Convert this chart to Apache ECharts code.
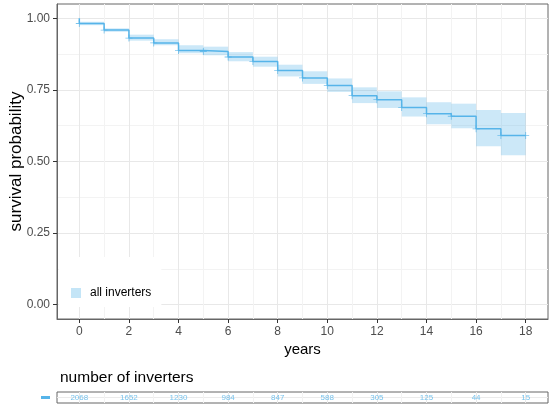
<!DOCTYPE html>
<html><head><meta charset="utf-8">
<script src="https://cdn.jsdelivr.net/npm/echarts@6/dist/echarts.min.js"></script>
<style>html,body{margin:0;padding:0;background:#fff}#c{width:549px;height:406px}</style>
</head><body><div id="c"></div>
<script>
// interval start times (years) and Kaplan-Meier estimates
const times = [0,1,2,3,4,5,6,7,8,9,10,11,12,13,14,15,16,17];
const survival = [0.982,0.959,0.931,0.914,0.888,0.884,0.865,0.849,0.818,0.792,0.765,0.730,0.716,0.689,0.667,0.658,0.614,0.591];
const upper = [0.988,0.965,0.943,0.927,0.906,0.901,0.882,0.866,0.838,0.815,0.790,0.759,0.745,0.724,0.707,0.702,0.680,0.669];
const lower = [0.976,0.953,0.922,0.906,0.878,0.871,0.850,0.831,0.797,0.771,0.743,0.704,0.687,0.657,0.630,0.616,0.553,0.522];
const endTime = 18;
// number at risk table
const riskTimes = [0,2,4,6,8,10,12,14,16,18];
const riskCounts = [2068,1652,1230,984,847,588,305,125,44,15];
const xTicks = [0,2,4,6,8,10,12,14,16,18];
const xGridAll = [0,1,2,3,4,5,6,7,8,9,10,11,12,13,14,15,16,17,18];
const yTicks = [0,0.25,0.5,0.75,1];
const yGridAll = [0,0.125,0.25,0.375,0.5,0.625,0.75,0.875,1];

const BLUE = '#56B4E9';
const FILL = 'rgba(86,180,233,0.3)';
const FONT = 'Liberation Sans, Arial, sans-serif';

// build step line points
const stepData = [[0,1]];
times.forEach((t,i)=>stepData.push([t, survival[i]]));
stepData.push([endTime, survival[survival.length-1]]);
const bandData = times.map((t,i)=>[t, i+1<times.length ? times[i+1] : endTime, lower[i], upper[i]]);
const censorData = times.map((t,i)=>[t, survival[i]]);
censorData.push([endTime, survival[survival.length-1]]);
const tableData = riskTimes.map((t,i)=>[t, 0, riskCounts[i]]);

const plus = 'path://M4.4,0h1.2v4.4h4.4v1.2h-4.4v4.4h-1.2v-4.4h-4.4v-1.2h4.4z';
const XMIN=-0.9, XMAX=18.9, YMIN=-0.05, YMAX=1.05;
const grid0 = {left:57, right:1, top:4, bottom:87, outerBoundsMode:'none', containLabel:false, show:true, borderColor:'#666', borderWidth:1, backgroundColor:'#fff'};
const grid1 = {left:57, right:1, top:392, height:11, outerBoundsMode:'none', containLabel:false, show:true, borderColor:'#666', borderWidth:1};

const chart = echarts.init(document.getElementById('c'), null, {renderer:'canvas'});
chart.setOption({
  animation:false,
  textStyle:{fontFamily:FONT},
  title:{text:'number of inverters', left:55, top:365, textStyle:{fontSize:15.5, fontWeight:'normal', color:'#000', fontFamily:FONT}},
  legend:{
    left:59, top:257, orient:'vertical', backgroundColor:'#fff', z:3,
    padding:[30,10,8,12], itemWidth:10, itemHeight:10, itemGap:5,
    textStyle:{fontSize:12, color:'#000', fontFamily:FONT, padding:[0,0,0,4]},
    data:[{name:'all inverters', icon:'rect', itemStyle:{color:'rgba(86,180,233,0.35)'}}]
  },
  grid:[grid0, grid1],
  xAxis:[
    {gridIndex:0, type:'value', min:XMIN, max:XMAX,
     name:'years', nameLocation:'middle', nameGap:23, nameMoveOverlap:false, nameTextStyle:{fontSize:15, color:'#000', fontFamily:FONT},
     axisLine:{show:true, onZero:false, lineStyle:{color:'#666'}},
     axisTick:{show:true, length:4, customValues:xTicks, lineStyle:{color:'#333'}},
     axisLabel:{customValues:xTicks, fontSize:12, color:'#4d4d4d', margin:7, fontFamily:FONT},
     splitLine:{show:false}},
    {gridIndex:0, type:'value', min:XMIN, max:XMAX, position:'bottom',
     axisLine:{show:false, onZero:false}, axisTick:{show:false, customValues:xGridAll}, axisLabel:{show:false, customValues:xGridAll},
     splitLine:{show:true, lineStyle:{color:['#e8e8e8','#f3f3f3'], width:1}}},
    {gridIndex:1, type:'value', min:XMIN, max:XMAX,
     axisLine:{show:false, onZero:false}, axisTick:{show:false, customValues:xGridAll}, axisLabel:{show:false, customValues:xGridAll},
     splitLine:{show:true, lineStyle:{color:['#e8e8e8','#f3f3f3'], width:1}}}
  ],
  yAxis:[
    {gridIndex:0, type:'value', min:YMIN, max:YMAX,
     name:'survival probability', nameLocation:'middle', nameGap:32, nameMoveOverlap:false, nameTextStyle:{fontSize:17, color:'#000', fontFamily:FONT},
     axisLine:{show:true, onZero:false, lineStyle:{color:'#666'}},
     axisTick:{show:true, length:4, customValues:yTicks, lineStyle:{color:'#333'}},
     axisLabel:{customValues:yTicks, fontSize:12, color:'#4d4d4d', margin:7, fontFamily:FONT, formatter:v=>v.toFixed(2)},
     splitLine:{show:false}},
    {gridIndex:0, type:'value', min:YMIN, max:YMAX, position:'left',
     axisLine:{show:false, onZero:false}, axisTick:{show:false, customValues:yGridAll}, axisLabel:{show:false, customValues:yGridAll},
     splitLine:{show:true, lineStyle:{color:['#e8e8e8','#f3f3f3'], width:1}}},
    {gridIndex:1, type:'value', min:-1, max:1,
     axisLine:{show:false, onZero:false}, axisTick:{show:false, customValues:[0]},
     axisLabel:{customValues:[0], formatter:()=>'{b|}', margin:7,
       rich:{b:{backgroundColor:BLUE, width:9, height:3, lineHeight:3}}},
     splitLine:{show:true, lineStyle:{color:'#ebebeb'}}}
  ],
  series:[
    {type:'custom', name:'band', xAxisIndex:0, yAxisIndex:0, silent:true, z:2,
     data:bandData,
     renderItem:(params, api)=>{
       const p1 = api.coord([api.value(0), api.value(3)]);
       const p2 = api.coord([api.value(1), api.value(2)]);
       return {type:'rect', shape:{x:p1[0], y:p1[1], width:p2[0]-p1[0], height:p2[1]-p1[1]}, style:{fill:FILL}};
     }},
    {type:'line', name:'all inverters', xAxisIndex:0, yAxisIndex:0, step:'end', data:stepData,
     showSymbol:false, lineStyle:{color:BLUE, width:1.5}, itemStyle:{color:BLUE}, z:3},
    {type:'scatter', name:'censor', xAxisIndex:0, yAxisIndex:0, data:censorData, symbol:plus, symbolSize:7,
     itemStyle:{color:BLUE}, z:4, silent:true},
    {type:'scatter', name:'risk', xAxisIndex:2, yAxisIndex:2, data:tableData, symbolSize:1,
     itemStyle:{color:'rgba(0,0,0,0)'}, silent:true,
     label:{show:true, position:'inside', formatter:p=>String(p.value[2]), color:BLUE, fontSize:8, fontFamily:FONT}}
  ]
});
</script></body></html>
